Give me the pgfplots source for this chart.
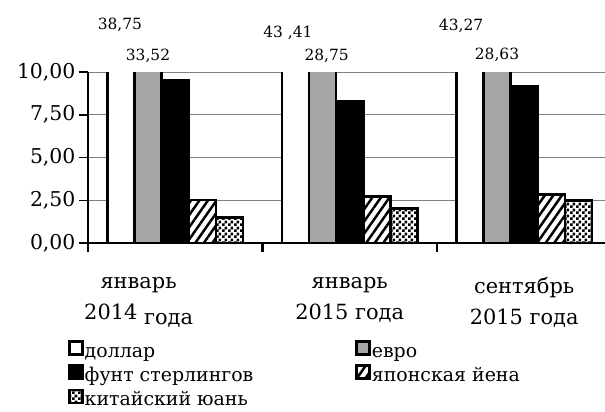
\documentclass[border=0pt]{standalone}
\usepackage{fontspec}
\setmainfont{DejaVu Serif}
\usepackage{pgfplots}
\pgfplotsset{compat=1.18}
\usetikzlibrary{patterns,patterns.meta}

\pgfdeclarepatternformonly{checker}{\pgfpoint{0bp}{0bp}}{\pgfpoint{6bp}{6bp}}{\pgfpoint{6bp}{6bp}}{%
  \pgfpathrectangle{\pgfpoint{0bp}{0bp}}{\pgfpoint{3bp}{3bp}}%
  \pgfpathrectangle{\pgfpoint{3bp}{3bp}}{\pgfpoint{3bp}{3bp}}%
  \pgfusepath{fill}}

\definecolor{eurogray}{HTML}{A6A6A6}

\begin{document}
\begin{tikzpicture}
\useasboundingbox (-88bp,-169bp) rectangle (517bp,243bp);
\begin{axis}[
  at={(0,0)}, anchor=south west,
  scale only axis, width=517bp, height=171bp,
  xmin=-0.5, xmax=2.463, ymin=0, ymax=10,
  ybar=0pt, bar width=0.155,
  clip mode=individual,
  axis x line*=bottom, axis y line*=left,
  axis line style={-, line width=2.5bp},
  ytick={0,2.5,5,7.5,10},
  yticklabel style={/pgf/number format/.cd, fixed, fixed zerofill, precision=2, use comma, assume math mode=true},
  ymajorgrids, grid style={gray, line width=0.9bp},
  tick align=outside, major tick length=9bp,
  tick style={black, line width=1.5bp},
  xtick={-0.21,1,2},
  xticklabels={{январь\\2014 \raisebox{-5bp}{года}},{январь\\2015 года},{сентябрь\\2015 года}},
  xticklabel style={align=center, font=\fontsize{21}{31}\selectfont, yshift=-22bp},
  xtick style={draw=none},
  extra x ticks={-0.5,0.5,1.5},
  extra x tick labels={},
  extra x tick style={xtick style={draw=black, line width=2.5bp}, grid=none},
  tick label style={font=\fontsize{20.5}{22}\selectfont},
  legend columns=2,
  legend cell align=left,
  legend style={draw=none, at={(-20bp,-97bp)}, anchor=north west,
    font=\fontsize{19}{22}\selectfont, row sep=4bp,
    nodes={inner sep=1bp, text height=14bp, text depth=2bp},
    /tikz/every even column/.append style={column sep=101bp},
    inner sep=0pt},
  legend image code/.code={\draw[#1, line width=2.5bp] (0bp,-3bp) rectangle (13bp,10bp);},
]
\addplot[draw=black, fill=white, line width=2.5bp] coordinates {(0,38.75) (1,43.41) (2,43.27)};
\addplot[draw=black, fill=eurogray, line width=2.5bp] coordinates {(0,33.52) (1,28.75) (2,28.63)};
\addplot[draw=black, fill=black, line width=2.5bp] coordinates {(0,9.52) (1,8.30) (2,9.18)};
\addplot[draw=black, fill=white, line width=2.5bp, postaction={pattern={Lines[angle=55, distance=7bp, line width=2.5bp]}}] coordinates {(0,2.52) (1,2.73) (2,2.85)};
\addplot[draw=black, fill=white, line width=2.5bp, postaction={pattern=checker}] coordinates {(0,1.50) (1,2.02) (2,2.50)};
\legend{доллар, евро, фунт стерлингов, японская йена, китайский юань}
\node[font=\fontsize{15.5}{18}\selectfont] at (axis cs:-0.317,12.75) {38,75};
\node[font=\fontsize{15.5}{18}\selectfont] at (axis cs:-0.156,10.94) {33,52};
\node[font=\fontsize{15.5}{18}\selectfont] at (axis cs:0.646,12.28) {43 ,41};
\node[font=\fontsize{15.5}{18}\selectfont] at (axis cs:0.868,10.94) {28,75};
\node[font=\fontsize{15.5}{18}\selectfont] at (axis cs:1.638,12.69) {43,27};
\node[font=\fontsize{15.5}{18}\selectfont] at (axis cs:1.844,10.99) {28,63};
\end{axis}
\end{tikzpicture}
\end{document}
